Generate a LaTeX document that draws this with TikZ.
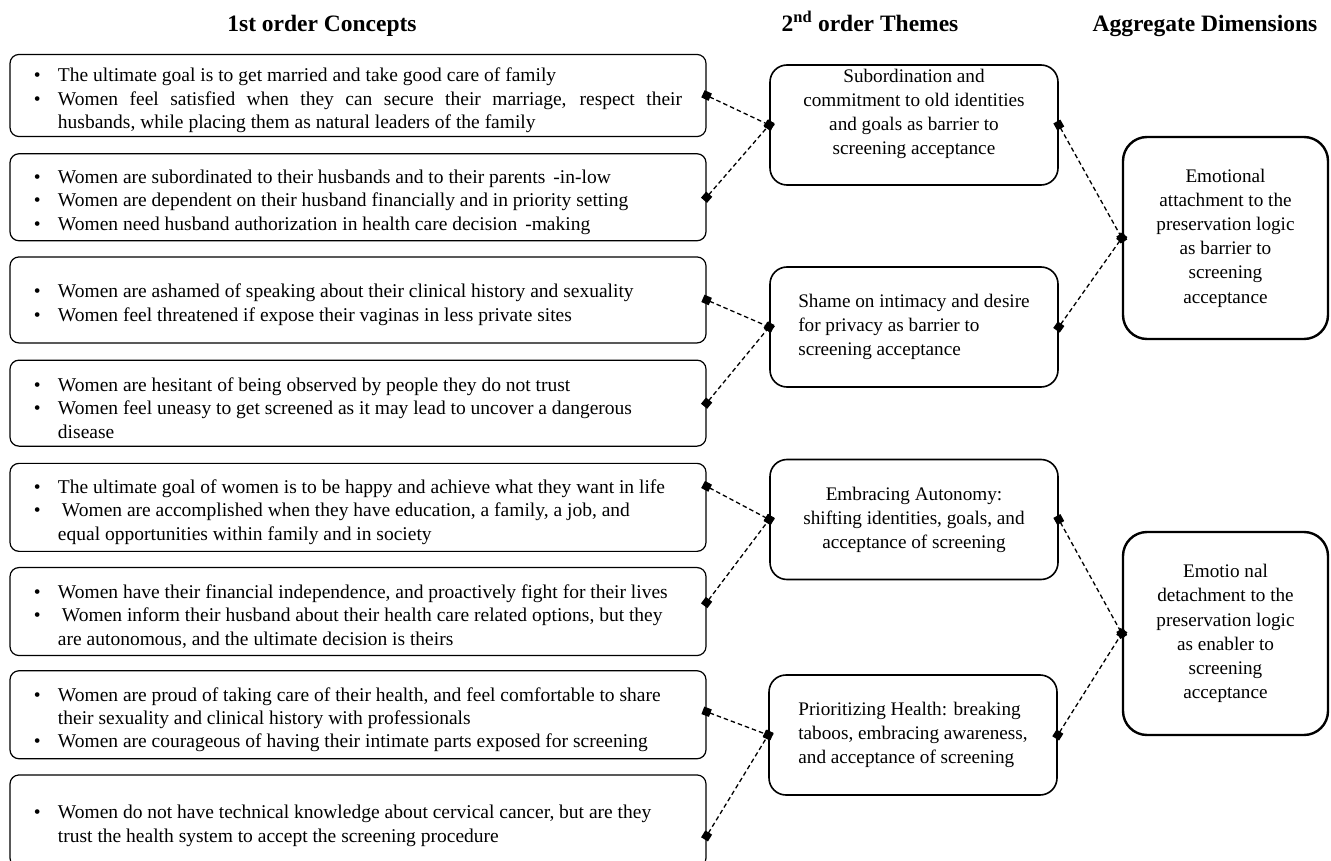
\documentclass[tikz,border=0pt]{standalone}
\usepackage{fontspec}
\setmainfont{Liberation Serif}
\usepackage{tikz}
\usetikzlibrary{arrows.meta,positioning,calc}

\newcommand{\itm}[1]{\par\noindent\hangindent=24pt\hangafter=1\makebox[24pt][l]{\textbullet}#1\par}

\begin{document}
\begin{tikzpicture}[
    x=1pt, y=-1pt,
    concept/.style={rectangle, rounded corners=9pt, draw=black, line width=1.2pt, align=justify, text width=648pt, inner xsep=24pt, inner ysep=4pt, font=\fontsize{19.5}{23.3}\selectfont},
    theme/.style={rectangle, rounded corners=17pt, draw=black, line width=1.6pt, minimum width=288pt, minimum height=120pt, font=\fontsize{19.2}{24}\selectfont},
    dimen/.style={rectangle, rounded corners=24pt, draw=black, line width=2.4pt, align=center, minimum width=205pt, minimum height=202pt, font=\fontsize{19.2}{24.2}\selectfont},
    head/.style={anchor=base, font=\fontsize{23.5}{28}\selectfont\bfseries},
    link/.style={{Square[length=8pt,width=8pt]}-{Square[length=8pt,width=8pt]}, line width=1.3pt, dash pattern=on 4.5pt off 3pt, shorten <=-4pt, shorten >=-4pt}
]
\useasboundingbox (0,0) rectangle (1331,861);

% column headings
\node[head] (h1) at (322,31.5) {1st order Concepts};
\node[head] (h2) at (870,31.5) {2\textsuperscript{nd} order Themes};
\node[head] (h3) at (1205,31.5) {Aggregate Dimensions};

% 1st order concepts
\node[concept, minimum height=79pt] (c1) at (358,95.5) {\itm{The ultimate goal is to get married and take good care of family}
  \itm{Women feel satisfied when they can secure their marriage, respect their\linebreak husbands, while placing them as natural leaders of the family}};
\node[concept, minimum height=87pt, below=16pt of c1] (c2) {\itm{Women are subordinated to their husbands and to their parents\hspace{8pt}-in-low}
  \itm{Women are dependent on their husband financially and in priority setting}
  \itm{Women need husband authorization in health care decision\hspace{8pt}-making}};
\node[concept, minimum height=86pt, below=15pt of c2] (c3) {\itm{Women are ashamed of speaking about their clinical history and sexuality}
  \itm{Women feel threatened if expose their vaginas in less private sites}};
\node[concept, minimum height=86pt, below=16pt of c3] (c4) {\itm{Women are hesitant of being observed by people they do not trust}
  \itm{Women feel uneasy to get screened as it may lead to uncover a dangerous\newline disease}};
\node[concept, minimum height=88pt, below=16pt of c4] (c5) {\itm{The ultimate goal of women is to be happy and achieve what they want in life}
  \itm{\hspace{4pt}Women are accomplished when they have education, a family, a job, and\newline equal opportunities within family and in society}};
\node[concept, minimum height=88pt, below=15pt of c5] (c6) {\itm{Women have their financial independence, and proactively fight for their lives}
  \itm{\hspace{4pt}Women inform their husband about their health care related options, but they\newline are autonomous, and the ultimate decision is theirs}};
\node[concept, minimum height=88pt, below=14pt of c6] (c7) {\itm{Women are proud of taking care of their health, and feel comfortable to share\newline their sexuality and clinical history with professionals}
  \itm{Women are courageous of having their intimate parts exposed for screening}};
\node[concept, minimum height=92pt, below=15pt of c7] (c8) {\itm{Women do not have technical knowledge about cervical cancer, but are they\newline trust the health system to accept the screening procedure}};

% 2nd order themes
\node[theme, align=center, text depth=27pt] (t1) at (914,125) {Subordination and\\commitment to old identities\\and goals as barrier to\\screening acceptance};
\node[theme, align=left] (t2) at (914,327) {Shame on intimacy and desire\\for privacy as barrier to\\screening acceptance};
\node[theme, align=center] (t3) at (914,519.5) {Embracing Autonomy:\\shifting identities, goals, and\\acceptance of screening};
\node[theme, align=left] (t4) at (913,735) {Prioritizing Health: breaking\\taboos, embracing awareness,\\and acceptance of screening};

% aggregate dimensions
\node[dimen] (d1) at (1225.5,238) {Emotional\\attachment to the\\preservation logic\\as barrier to\\screening\\acceptance};
\node[dimen, minimum height=203pt] (d2) at (1225.5,633.5) {Emotio nal\\detachment to the\\preservation logic\\as enabler to\\screening\\acceptance};

% links
\draw[link] (c1.east) -- (t1.west);
\draw[link] (c2.east) -- (t1.west);
\draw[link] (c3.east) -- (t2.west);
\draw[link] (c4.east) -- (t2.west);
\draw[link] ([yshift=21pt]c5.east) -- (t3.west);
\draw[link] ([yshift=9pt]c6.east) -- (t3.west);
\draw[link] ([yshift=3pt]c7.east) -- (t4.west);
\draw[link] ([yshift=-15pt]c8.east) -- (t4.west);
\draw[link] (t1.east) -- (d1.west);
\draw[link] (t2.east) -- (d1.west);
\draw[link] (t3.east) -- (d2.west);
\draw[link] (t4.east) -- (d2.west);
\end{tikzpicture}
\end{document}
